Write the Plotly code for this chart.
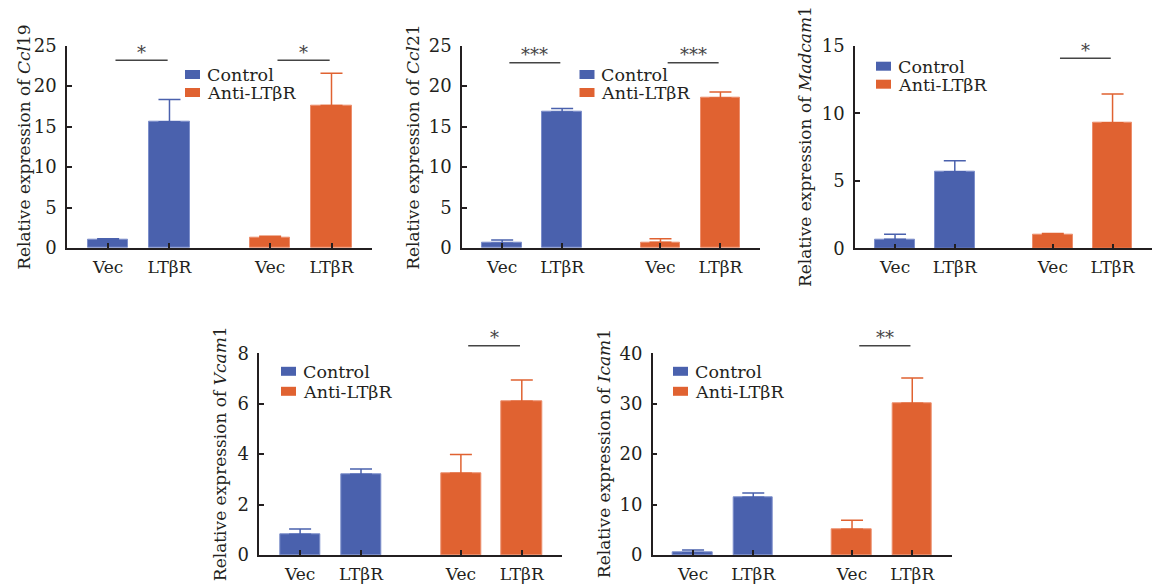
import plotly.graph_objects as go

# ---------------- data ----------------
categories = ["Vec", "LTβR"]

ccl19_control = [1.0, 15.6]
ccl19_control_err = [0.15, 2.75]
ccl19_anti = [1.32, 17.6]
ccl19_anti_err = [0.13, 4.0]

ccl21_control = [0.6, 16.8]
ccl21_control_err = [0.4, 0.45]
ccl21_anti = [0.7, 18.55]
ccl21_anti_err = [0.45, 0.72]

madcam1_control = [0.67, 5.67]
madcam1_control_err = [0.37, 0.82]
madcam1_anti = [0.99, 9.3]
madcam1_anti_err = [0.11, 2.13]

vcam1_control = [0.82, 3.2]
vcam1_control_err = [0.21, 0.21]
vcam1_anti = [3.24, 6.1]
vcam1_anti_err = [0.75, 0.84]

icam1_control = [0.46, 11.44]
icam1_control_err = [0.54, 0.86]
icam1_anti = [5.1, 30.1]
icam1_anti_err = [1.78, 5.0]

# significance (control group, anti group) and bracket heights
ccl19_sig = ["*", "*"]
ccl19_bracket = [23.2, 23.2]
ccl21_sig = ["***", "***"]
ccl21_bracket = [22.9, 22.9]
madcam1_sig = [None, "*"]
madcam1_bracket = [None, 14.07]
vcam1_sig = [None, "*"]
vcam1_bracket = [None, 8.3]
icam1_sig = [None, "**"]
icam1_bracket = [None, 41.5]

legend_labels = ["Control", "Anti-LTβR"]

# ---------------- style / layout ----------------
W, H = 1154, 584
FONT = "DejaVu Serif"
TXT = "#231F20"
BLUE = "#4A61AD"
ORANGE = "#E06231"
BLUE_EDGE = "#7D8FCB"
ORANGE_EDGE = "#EC8E6C"

ctrl_pos = [0, 1]
anti_pos = [2.64, 3.64]

panels = [
    dict(title=("Ccl", "19"), ymax=25, dtick=5, c=ccl19_control, ce=ccl19_control_err,
         a=ccl19_anti, ae=ccl19_anti_err, sig=ccl19_sig, br=ccl19_bracket,
         xpx=(67, 372), ypx=(45.7, 248), tx=24, leg=(185, 74.5, 18)),
    dict(title=("Ccl", "21"), ymax=25, dtick=5, c=ccl21_control, ce=ccl21_control_err,
         a=ccl21_anti, ae=ccl21_anti_err, sig=ccl21_sig, br=ccl21_bracket,
         xpx=(462, 760), ypx=(45.7, 248), tx=413, leg=(579.5, 74.5, 18)),
    dict(title=("Madcam", "1"), ymax=15, dtick=5, c=madcam1_control, ce=madcam1_control_err,
         a=madcam1_anti, ae=madcam1_anti_err, sig=madcam1_sig, br=madcam1_bracket,
         xpx=(855, 1152), ypx=(45.7, 248.3), tx=805, leg=(876, 66.2, 18)),
    dict(title=("Vcam", "1"), ymax=8, dtick=2, c=vcam1_control, ce=vcam1_control_err,
         a=vcam1_anti, ae=vcam1_anti_err, sig=vcam1_sig, br=vcam1_bracket,
         xpx=(259.3, 562), ypx=(353.3, 555), tx=220, leg=(281, 371.3, 20)),
    dict(title=("Icam", "1"), ymax=40, dtick=10, c=icam1_control, ce=icam1_control_err,
         a=icam1_anti, ae=icam1_anti_err, sig=icam1_sig, br=icam1_bracket,
         xpx=(652.7, 952), ypx=(353.3, 555), tx=604, leg=(673, 371.3, 20)),
]

fig = go.Figure()
layout = dict(width=W, height=H, margin=dict(l=0, r=0, t=0, b=0, pad=0), autosize=False,
              paper_bgcolor="white", plot_bgcolor="white", showlegend=False,
              bargap=0, font=dict(family=FONT, color=TXT))
shapes = []
annotations = []

for i, p in enumerate(panels):
    n = "" if i == 0 else str(i + 1)
    xa, ya = "x" + n, "y" + n
    err_common = dict(type="data", symmetric=False, thickness=1.5, width=11)
    fig.add_trace(go.Bar(
        x=ctrl_pos, y=p["c"], width=0.66, xaxis=xa, yaxis=ya, name=legend_labels[0],
        marker=dict(color=BLUE, line=dict(color=BLUE_EDGE, width=1)),
        error_y=dict(array=p["ce"], arrayminus=[0, 0], color=BLUE, **err_common)))
    fig.add_trace(go.Bar(
        x=anti_pos, y=p["a"], width=0.66, xaxis=xa, yaxis=ya, name=legend_labels[1],
        marker=dict(color=ORANGE, line=dict(color=ORANGE_EDGE, width=1)),
        error_y=dict(array=p["ae"], arrayminus=[0, 0], color=ORANGE, **err_common)))

    x0, x1 = p["xpx"]
    yt, yb = p["ypx"]
    xd = [x0 / W, x1 / W]
    yd = [1 - yb / H, 1 - yt / H]
    layout["xaxis" + n] = dict(
        domain=xd, anchor=ya, range=[-0.67, 4.3], automargin=False,
        tickvals=ctrl_pos + anti_pos, ticktext=categories * 2,
        ticks="inside", ticklen=5, tickwidth=1.5, tickcolor=TXT,
        showline=True, linecolor=TXT, linewidth=1.5,
        showgrid=False, zeroline=False, ticklabelstandoff=3,
        tickfont=dict(family=FONT, size=17, color=TXT))
    layout["yaxis" + n] = dict(
        domain=yd, anchor=xa, range=[0, p["ymax"]], dtick=p["dtick"], automargin=False,
        ticks="inside", ticklen=5, tickwidth=1.5, tickcolor=TXT,
        showline=True, linecolor=TXT, linewidth=1.5,
        showgrid=False, zeroline=False, ticklabelstandoff=5,
        tickfont=dict(family=FONT, size=18, color=TXT))

    it, rg = p["title"]
    annotations.append(dict(
        text="Relative expression of <i>%s</i>%s" % (it, rg),
        xref="paper", yref="paper", x=p["tx"] / W, y=(yd[0] + yd[1]) / 2,
        xanchor="center", yanchor="middle", textangle=-90, showarrow=False,
        font=dict(family=FONT, size=17, color=TXT)))

    groups = [ctrl_pos, anti_pos]
    for g, (s, b) in enumerate(zip(p["sig"], p["br"])):
        if s is None:
            continue
        gx0 = groups[g][0] + 0.12
        gx1 = groups[g][1] - 0.03
        yv = b / p["ymax"]
        shapes.append(dict(type="line", xref=xa, yref=ya + " domain",
                           x0=gx0, x1=gx1, y0=yv, y1=yv,
                           line=dict(color="#444444", width=1.5)))
        annotations.append(dict(
            text=s, xref=xa, yref=ya + " domain", x=(gx0 + gx1) / 2, y=yv,
            xanchor="center", yanchor="middle", yshift=8, showarrow=False,
            font=dict(family=FONT, size=18, color="#444444")))

    lx, ly, dy = p["leg"]
    for k, (lab, col) in enumerate(zip(legend_labels, [BLUE, ORANGE])):
        cy = ly + k * dy
        shapes.append(dict(type="rect", xref="paper", yref="paper",
                           x0=lx / W, x1=(lx + 15) / W,
                           y0=1 - (cy + 4.5) / H, y1=1 - (cy - 4.5) / H,
                           fillcolor=col, line=dict(width=0)))
        annotations.append(dict(
            text=lab, xref="paper", yref="paper", x=(lx + 20) / W, y=1 - cy / H,
            xanchor="left", yanchor="middle", showarrow=False, height=17,
            font=dict(family=FONT, size=17.5, color=TXT)))

layout["shapes"] = shapes
layout["annotations"] = annotations
fig.update_layout(**layout)
fig.write_html("out.html")
